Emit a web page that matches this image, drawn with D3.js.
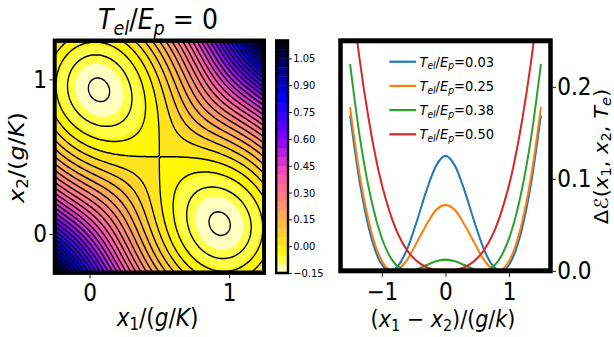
<!DOCTYPE html>
<html>
<head>
<meta charset="utf-8">
<script src="https://cdn.jsdelivr.net/npm/d3@7"></script>
<style>
  html, body { margin: 0; padding: 0; background: #fff; }
  svg { display: block; }
  text { font-family: "DejaVu Sans", sans-serif; fill: #000; }
</style>
</head>
<body>
<svg id="chart" width="614" height="337"></svg>
<script>
// ---------------- data ----------------
// Left panel: adiabatic energy surface of the two-site model at T_el = 0
const x1Range = [-0.25, 1.25];
const x2Range = [-0.25, 1.25];
const hoppingGap = [0.25];            // (2t)^2 entering sqrt((x1-x2)^2 + (2t)^2)
const fillLevels = [-0.15, -0.10, -0.05, 0.00, 0.05, 0.10, 0.15, 0.20, 0.25, 0.30,
                    0.35, 0.40, 0.45, 0.50, 0.55, 0.60, 0.65, 0.70, 0.75, 0.80,
                    0.85, 0.90, 0.95, 1.00, 1.05, 1.10, 1.15];
const lineLevels = [-0.12, -0.08, -0.04, 0.00, 0.04, 0.08, 0.12, 0.16, 0.20, 0.24,
                    0.28, 0.32, 0.36, 0.40, 0.44, 0.48, 0.52, 0.56, 0.60, 0.64,
                    0.68, 0.72, 0.76, 0.80, 0.84, 0.88, 0.92, 0.96, 1.00, 1.04,
                    1.08, 1.12];
const colorbarTicks = [-0.15, 0.00, 0.15, 0.30, 0.45, 0.60, 0.75, 0.90, 1.05];
const leftTicks = [0, 1];

// Right panel: energy profile along x1 + x2 = 1 for four electron temperatures
const tempLabels = ["0.03", "0.25", "0.38", "0.50"];
const seriesColors = ["#1f77b4", "#ff7f0e", "#2ca02c", "#d62728"];
const profile003 = [[-1.5,0.169],[-1.35,0.097],[-1.2,0.045],[-1.05,0.013],[-0.9,0.0004],[-0.866,0],
  [-0.75,0.005],[-0.6,0.024],[-0.45,0.054],[-0.3,0.087],[-0.15,0.114],[0,0.125],[0.15,0.114],
  [0.3,0.087],[0.45,0.054],[0.6,0.024],[0.75,0.005],[0.866,0],[0.9,0.0004],[1.05,0.013],
  [1.2,0.045],[1.35,0.097],[1.5,0.169]];
const profile025 = [[-1.5,0.178],[-1.35,0.105],[-1.2,0.052],[-1.05,0.018],[-0.9,0.002],[-0.815,0],
  [-0.75,0.0013],[-0.6,0.0123],[-0.45,0.031],[-0.3,0.050],[-0.15,0.066],[0,0.0714],[0.15,0.066],
  [0.3,0.050],[0.45,0.031],[0.6,0.0123],[0.75,0.0013],[0.815,0],[0.9,0.002],[1.05,0.018],
  [1.2,0.052],[1.35,0.105],[1.5,0.178]];
const profile038 = [[-1.5,0.225],[-1.35,0.147],[-1.2,0.088],[-1.05,0.046],[-0.9,0.019],[-0.75,0.0048],
  [-0.575,0],[-0.45,0.0017],[-0.3,0.0062],[-0.15,0.0104],[0,0.0121],[0.15,0.0104],[0.3,0.0062],
  [0.45,0.0017],[0.575,0],[0.75,0.0048],[0.9,0.019],[1.05,0.046],[1.2,0.088],[1.35,0.147],[1.5,0.225]];
const profile050 = [[-1.5,0.316],[-1.35,0.230],[-1.2,0.162],[-1.05,0.108],[-0.9,0.069],[-0.75,0.0405],
  [-0.6,0.022],[-0.45,0.0104],[-0.3,0.0039],[-0.15,0.0009],[0,0],[0.15,0.0009],[0.3,0.0039],
  [0.45,0.0104],[0.6,0.022],[0.75,0.0405],[0.9,0.069],[1.05,0.108],[1.2,0.162],[1.35,0.230],[1.5,0.316]];
const profiles = [profile003, profile025, profile038, profile050];
const rightXTicks = [-1, 0, 1];
const rightYTicks = [0, 0.1, 0.2];

// ---------------- helpers ----------------
// energy of the lower adiabatic sheet (units of E_p, offset so the saddle sits at 0)
function energy(x1, x2) {
  const u = x1 - x2;
  return x1 * x1 + x2 * x2 - x1 - x2 - Math.sqrt(u * u + hoppingGap[0]) + 1;
}

// matplotlib "gnuplot2" colormap, used reversed
const clip01 = v => Math.max(0, Math.min(1, v));
function gnuplot2(x) {
  const r = clip01(x / 0.32 - 0.78125);
  const g = clip01(2 * x - 0.84);
  const b = clip01(x < 0.25 ? 4 * x : (x < 0.92 ? -2 * x + 1.84 : x / 0.08 - 11.5));
  return d3.rgb(r * 255, g * 255, b * 255).formatHex();
}
const vmin = fillLevels[0], vmax = fillLevels[fillLevels.length - 1];
const bandColor = k => {
  const mid = (fillLevels[k] + fillLevels[k + 1]) / 2;
  return gnuplot2(1 - (mid - vmin) / (vmax - vmin));
};

// mathtext-like rich text: style r = roman, i = italic, sr/si = subscript
function richText(sel, parts, size) {
  let down = false;
  const shift = size * 0.18;
  parts.forEach(([s, st]) => {
    const sub = st[0] === "s";
    const ts = sel.append("tspan").text(s)
      .attr("font-style", st.endsWith("i") ? "italic" : "normal")
      .attr("font-size", sub ? size * 0.7 : size);
    if (sub && !down) { ts.attr("dy", shift); down = true; }
    else if (!sub && down) { ts.attr("dy", -shift); down = false; }
  });
}

// ---------------- figure ----------------
const SX = 0.9;                          // figure is drawn slightly narrow
const px = v => v / SX;
const svg = d3.select("#chart");
svg.append("rect").attr("width", 614).attr("height", 337).attr("fill", "#fff");
const root = svg.append("g").attr("transform", `scale(${SX},1)`);

// ===== left panel: contour map =====
const xL = d3.scaleLinear().domain(x1Range).range([px(54.7), px(264)]);
const yL = d3.scaleLinear().domain(x2Range).range([272.7, 40.7]);

const defs = svg.append("defs");
defs.append("clipPath").attr("id", "clipL").append("rect")
  .attr("x", xL(x1Range[0])).attr("y", yL(x2Range[1]))
  .attr("width", xL(x1Range[1]) - xL(x1Range[0]))
  .attr("height", yL(x2Range[0]) - yL(x2Range[1]));

const gridLo = -0.3, gridStep = 0.01, gridN = 161;
const grid = new Array(gridN * gridN);
for (let j = 0; j < gridN; j++)
  for (let i = 0; i < gridN; i++)
    grid[j * gridN + i] = energy(gridLo + i * gridStep, gridLo + j * gridStep);

const gridToPlot = d3.geoTransform({
  point(gx, gy) {
    this.stream.point(xL(gridLo + (gx - 0.5) * gridStep), yL(gridLo + (gy - 0.5) * gridStep));
  }
});
const gridPath = d3.geoPath(gridToPlot);

const plotL = root.append("g").attr("clip-path", "url(#clipL)");
const bands = d3.contours().size([gridN, gridN]).thresholds(fillLevels.slice(0, -1))(grid);
plotL.selectAll("path.band").data(bands).join("path")
  .attr("class", "band")
  .attr("d", gridPath)
  .attr("fill", (d, k) => bandColor(k));
const isolines = d3.contours().size([gridN, gridN]).thresholds(lineLevels)(grid);
plotL.selectAll("path.iso").data(isolines).join("path")
  .attr("class", "iso")
  .attr("d", gridPath)
  .attr("fill", "none")
  .attr("stroke", "#000")
  .attr("stroke-width", 1.5)
  .attr("stroke-linejoin", "round");

root.append("rect")
  .attr("x", xL(x1Range[0])).attr("y", yL(x2Range[1]))
  .attr("width", xL(x1Range[1]) - xL(x1Range[0]))
  .attr("height", yL(x2Range[0]) - yL(x2Range[1]))
  .attr("fill", "none").attr("stroke", "#000").attr("stroke-width", 4.4);

const axL_b = root.append("g").attr("transform", `translate(0,${yL(x2Range[0]) + 2.2})`)
  .call(d3.axisBottom(xL).tickValues(leftTicks).tickFormat(d3.format("d")).tickSize(3.5).tickPadding(6));
const axL_l = root.append("g").attr("transform", `translate(${xL(x1Range[0]) - 2.2},0)`)
  .call(d3.axisLeft(yL).tickValues(leftTicks).tickFormat(d3.format("d")).tickSize(3.5).tickPadding(3));
[axL_b, axL_l].forEach(a => {
  a.select(".domain").remove();
  a.selectAll("text").attr("font-size", 24).attr("font-family", "DejaVu Sans");
});

// title
richText(root.append("text").attr("x", px(158)).attr("y", 29.5).attr("text-anchor", "middle"),
  [["T", "i"], ["el", "si"], ["/", "r"], ["E", "i"], ["p", "si"], [" = 0", "r"]], 28);
// axis labels
richText(root.append("text").attr("x", px(157.5)).attr("y", 326).attr("text-anchor", "middle"),
  [["x", "i"], ["1", "sr"], ["/(", "r"], ["g", "i"], ["/", "r"], ["K", "i"], [")", "r"]], 24);
richText(root.append("text").attr("transform", `translate(${px(24)},157.5) rotate(-90)`).attr("text-anchor", "middle"),
  [["x", "i"], ["2", "sr"], ["/(", "r"], ["g", "i"], ["/", "r"], ["K", "i"], [")", "r"]], 24);

// ===== colorbar =====
const cbY = d3.scaleLinear().domain([vmin, vmax]).range([273, 40.5]);
const cbX0 = px(276.2), cbX1 = px(288);
root.append("g").selectAll("rect").data(d3.range(fillLevels.length - 1)).join("rect")
  .attr("x", cbX0).attr("width", cbX1 - cbX0)
  .attr("y", k => cbY(fillLevels[k + 1]))
  .attr("height", k => cbY(fillLevels[k]) - cbY(fillLevels[k + 1]) + 0.4)
  .attr("fill", k => bandColor(k));
root.append("rect").attr("x", cbX0).attr("y", cbY(vmax)).attr("width", cbX1 - cbX0)
  .attr("height", cbY(vmin) - cbY(vmax))
  .attr("fill", "none").attr("stroke", "#000").attr("stroke-width", 2.6);
const axCb = root.append("g").attr("transform", `translate(${cbX1 + 1.3},0)`)
  .call(d3.axisRight(cbY).tickValues(colorbarTicks).tickFormat(d3.format(".2f")).tickSize(3).tickPadding(1.5));
axCb.select(".domain").remove();
axCb.selectAll("text").attr("font-size", 11).attr("font-family", "DejaVu Sans");

// ===== right panel: profiles =====
const xR = d3.scaleLinear().domain([-1.65, 1.65]).range([px(340.5), px(550.5)]);
const yR = d3.scaleLinear().domain([0, 0.25]).range([270.8, 40.8]);
defs.append("clipPath").attr("id", "clipR").append("rect")
  .attr("x", xR(-1.65)).attr("y", yR(0.25))
  .attr("width", xR(1.65) - xR(-1.65)).attr("height", yR(0) - yR(0.25));

const line = d3.line().x(d => xR(d[0])).y(d => yR(d[1])).curve(d3.curveMonotoneX);
const plotR = root.append("g").attr("clip-path", "url(#clipR)");
plotR.selectAll("path.profile").data(profiles).join("path")
  .attr("class", "profile")
  .attr("d", line)
  .attr("fill", "none")
  .attr("stroke", (d, k) => seriesColors[k])
  .attr("stroke-width", 2.2);

root.append("rect")
  .attr("x", xR(-1.65)).attr("y", yR(0.25))
  .attr("width", xR(1.65) - xR(-1.65)).attr("height", yR(0) - yR(0.25))
  .attr("fill", "none").attr("stroke", "#000").attr("stroke-width", 5);

const axR_b = root.append("g").attr("transform", `translate(0,${yR(0) + 2.5})`)
  .call(d3.axisBottom(xR).tickValues(rightXTicks).tickFormat(d3.format("d")).tickSize(3.5).tickPadding(6));
const axR_r = root.append("g").attr("transform", `translate(${xR(1.65) + 2.5},0)`)
  .call(d3.axisRight(yR).tickValues(rightYTicks).tickFormat(d3.format(".1f")).tickSize(3.5).tickPadding(1.5));
[axR_b, axR_r].forEach(a => {
  a.select(".domain").remove();
  a.selectAll("text").attr("font-size", 24).attr("font-family", "DejaVu Sans");
});

richText(root.append("text").attr("x", px(443)).attr("y", 327).attr("text-anchor", "middle"),
  [["(", "r"], ["x", "i"], ["1", "sr"], [" − ", "r"], ["x", "i"], ["2", "sr"], [")/(", "r"],
   ["g", "i"], ["/", "r"], ["k", "i"], [")", "r"]], 23);
richText(root.append("text").attr("transform", `translate(${px(608)},156.5) rotate(-90)`).attr("text-anchor", "middle"),
  [["Δℰ(", "r"], ["x", "i"], ["1", "sr"], [", ", "r"], ["x", "i"], ["2", "sr"], [", ", "r"],
   ["T", "i"], ["e", "si"], [")", "r"]], 21);

// legend
const legend = root.append("g");
tempLabels.forEach((lab, k) => {
  const y = 61.7 + k * 24.2;
  legend.append("line").attr("x1", px(389.3)).attr("x2", px(416)).attr("y1", y).attr("y2", y)
    .attr("stroke", seriesColors[k]).attr("stroke-width", 2.2);
  richText(legend.append("text").attr("x", px(419.5)).attr("y", y + 5),
    [["T", "i"], ["el", "si"], ["/", "r"], ["E", "i"], ["p", "si"], ["=" + lab, "r"]], 14.5);
});
</script>
</body>
</html>
